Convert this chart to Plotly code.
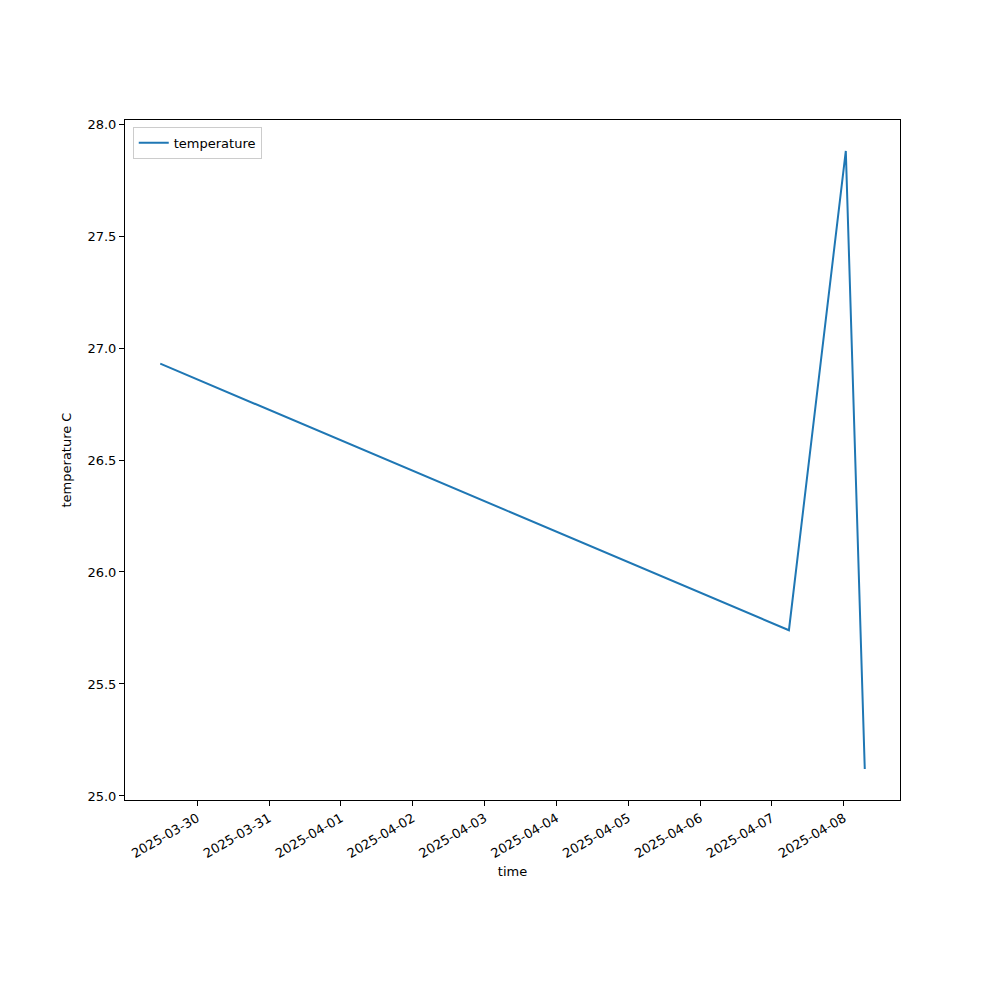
import pandas as pd
import plotly.graph_objects as go

times = ["2025-03-29 11:40", "2025-04-07 05:40", "2025-04-08 00:40", "2025-04-08 07:00"]
temperature = [26.93, 25.74, 27.88, 25.12]
tick_dates = ["2025-03-30", "2025-03-31", "2025-04-01", "2025-04-02", "2025-04-03",
              "2025-04-04", "2025-04-05", "2025-04-06", "2025-04-07", "2025-04-08"]

t = pd.to_datetime(pd.Series(times))
span = t.max() - t.min()
xr = [t.min() - span * 0.05, t.max() + span * 0.05]
yspan = max(temperature) - min(temperature)
yr = [min(temperature) - 0.05 * yspan, max(temperature) + 0.05 * yspan]

fig = go.Figure()
fig.add_trace(go.Scatter(x=t, y=temperature, mode="lines", name="temperature",
                         line=dict(color="#1f77b4", width=2)))

axis_common = dict(showline=True, linecolor="black", linewidth=1, mirror=True,
                   ticks="outside", ticklen=5, tickcolor="black", showgrid=False,
                   zeroline=False, tickfont=dict(size=13, color="black"))

fig.update_layout(
    width=1000, height=1000,
    paper_bgcolor="white", plot_bgcolor="white",
    font=dict(family="DejaVu Sans", size=13, color="black"),
    margin=dict(l=117, r=108, t=112, b=208),
    showlegend=True,
    legend=dict(x=0.01, y=0.99, xanchor="left", yanchor="top",
                bordercolor="#cccccc", borderwidth=1, bgcolor="rgba(255,255,255,0.8)",
                font=dict(size=13)),
    xaxis=dict(range=xr, tickvals=pd.to_datetime(pd.Series(tick_dates)),
               ticktext=tick_dates, tickangle=-30,
               title=dict(text="time", font=dict(size=13), standoff=6), **axis_common),
    yaxis=dict(range=yr, dtick=0.5, tickformat=".1f",
               title=dict(text="temperature C", font=dict(size=13), standoff=12), **axis_common),
)

fig.write_html("out.html")
